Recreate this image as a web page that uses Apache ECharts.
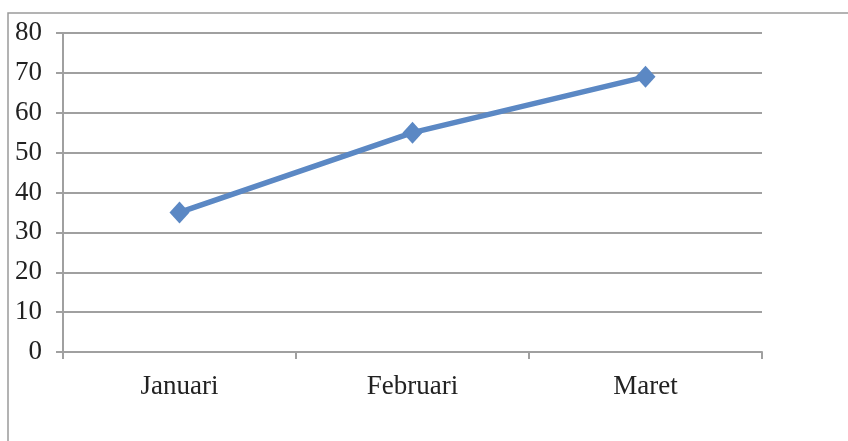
<!DOCTYPE html>
<html>
<head>
<meta charset="utf-8">
<script src="https://cdn.jsdelivr.net/npm/echarts@6/dist/echarts.min.js"></script>
<style>
html,body{margin:0;padding:0;background:#fff;}
#chart{width:848px;height:441px;}
</style>
</head>
<body>
<div id="chart"></div>
<script>
var months=['Januari','Februari','Maret'];
var values=[35,55,69];
var yTicks=[0,10,20,30,40,50,60,70,80];

//画图
var grey='#a0a0a0';
var font='"Liberation Serif","Times New Roman",serif';
var option={
    animation:false,
    backgroundColor:'#fff',
    graphic:[
        {
            type:'rect',
            shape:{x:8,y:13,width:900,height:500},
            style:{fill:'none',stroke:'#9a9a9a',lineWidth:1.5},
            silent:true
        }
    ],
    grid:{left:63,right:86,top:33,bottom:89},
    xAxis:{
        type:'category',
        data:months,
        boundaryGap:true,
        axisLine:{lineStyle:{color:grey,width:2}},
        axisTick:{show:true,length:7,lineStyle:{color:grey,width:2}},
        axisLabel:{color:'#222',fontFamily:font,fontSize:27,margin:21}
    },
    yAxis:{
        type:'value',
        min:yTicks[0],
        max:yTicks[yTicks.length-1],
        interval:10,
        axisLine:{show:true,lineStyle:{color:grey,width:2}},
        axisTick:{show:true,length:7,lineStyle:{color:grey,width:2}},
        splitLine:{lineStyle:{color:grey,width:2}},
        axisLabel:{color:'#222',fontFamily:font,fontSize:27,margin:21}
    },
    series:[
        {
            type:'line',
            data:values,
            symbol:'diamond',
            symbolSize:[20,22],
            lineStyle:{color:'#5b88c4',width:5.5},
            itemStyle:{color:'#5b88c4'}
        }
    ]
};
var myChart=echarts.init(document.getElementById('chart'));
myChart.setOption(option);
</script>
</body>
</html>
